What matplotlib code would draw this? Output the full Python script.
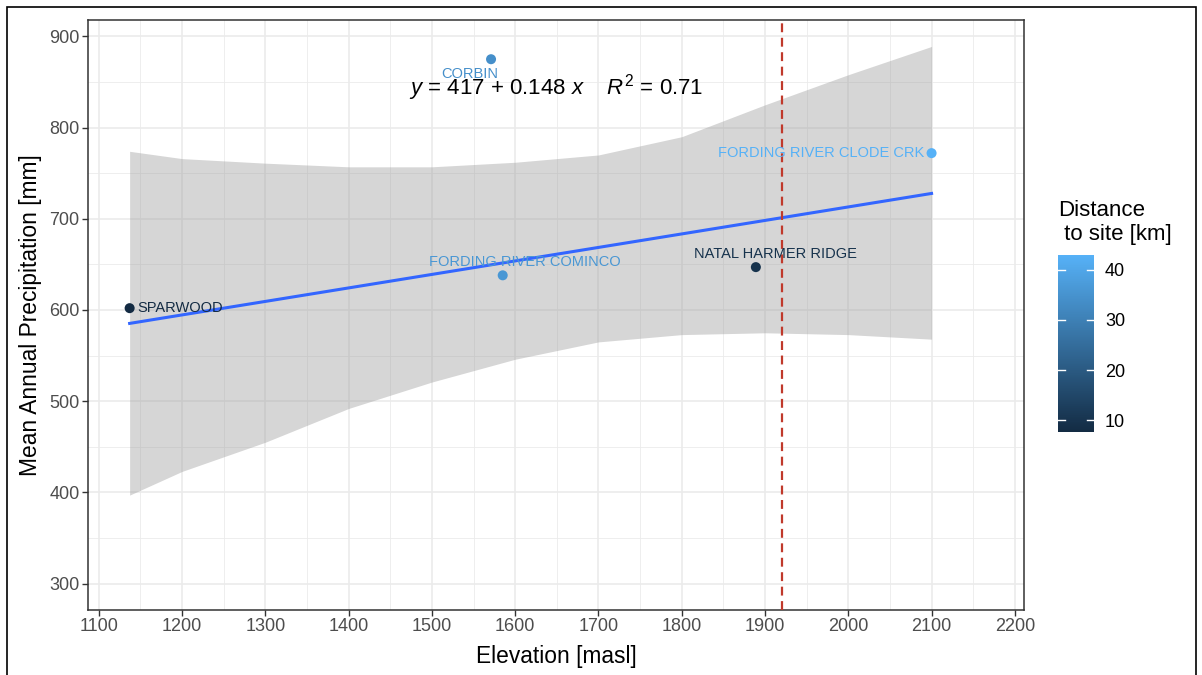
import numpy as np
import matplotlib.pyplot as plt
from matplotlib.colors import LinearSegmentedColormap, Normalize
from matplotlib.cm import ScalarMappable
from matplotlib.patches import Rectangle
from matplotlib.ticker import MultipleLocator

plt.rcParams['font.family'] = ['Liberation Sans', 'DejaVu Sans']
plt.rcParams['mathtext.fontset'] = 'custom'
plt.rcParams['mathtext.rm'] = 'Liberation Sans'
plt.rcParams['mathtext.it'] = 'Liberation Sans:italic'

# climate stations
stations = ['SPARWOOD', 'CORBIN', 'FORDING RIVER COMINCO',
            'NATAL HARMER RIDGE', 'FORDING RIVER CLODE CRK']
elevation = [1137, 1571, 1585, 1889, 2100]      # masl
precip = [602, 875, 638, 647, 772]              # mm
distance = [7.7, 34, 36, 9.5, 42.9]             # km to site

# fitted line
intercept = 417
slope = 0.148
r2 = 0.71

# confidence band around the fit
band_x = [1137, 1200, 1300, 1400, 1500, 1600, 1700, 1800, 1900, 2000, 2100]
band_hi = [774, 766, 761, 757, 757, 762, 770, 790, 825, 858, 889]
band_lo = [397, 423, 455, 492, 521, 546, 565, 573, 575, 573, 568]

site_elev = 1920

# label offsets in pixels (dx, dy, ha)
label_pos = [(8, 0, 'left'), (-21, -15, 'center'), (22, 13, 'center'),
             (20, 13, 'center'), (-7, 0, 'right')]

W, H = 1202, 675
fig = plt.figure(figsize=(W / 100, H / 100), dpi=100)
ax = fig.add_axes([88 / W, (H - 610) / H, (1024 - 88) / W, (610 - 20) / H])

cmap = LinearSegmentedColormap.from_list('ggblue', ['#132B43', '#56B1F7'])
norm = Normalize(vmin=min(distance), vmax=max(distance))

# grid (theme_bw look)
ax.set_xlim(1087, 2211)
ax.set_ylim(271, 918)
ax.xaxis.set_major_locator(MultipleLocator(100))
ax.xaxis.set_minor_locator(MultipleLocator(50))
ax.yaxis.set_major_locator(MultipleLocator(100))
ax.yaxis.set_minor_locator(MultipleLocator(50))
ax.grid(which='major', color='#EBEBEB', lw=1.2, zorder=0)
ax.grid(which='minor', color='#EBEBEB', lw=0.6, zorder=0)
ax.set_axisbelow(True)

ax.fill_between(band_x, band_lo, band_hi, color='#999999', alpha=0.4, lw=0, zorder=1)
fx = np.array([band_x[0], band_x[-1]])
ax.plot(fx, intercept + slope * fx, color='#3366FF', lw=2.2, zorder=2)
ax.axvline(site_elev, color='#C0392B', lw=1.6, ls=(0, (4, 2.5)), zorder=3)

ax.scatter(elevation, precip, c=distance, cmap=cmap, norm=norm, s=52, zorder=4, lw=0)
for name, x, y, d, (dx, dy, ha) in zip(stations, elevation, precip, distance, label_pos):
    ax.annotate(name, (x, y), xytext=(dx, dy), textcoords='offset pixels',
                ha=ha, va='center', fontsize=10.5, color=cmap(norm(d)), zorder=5)

eq = r'$y$ = %d + %.3f $x$    $R^2$ = %.2f' % (intercept, slope, r2)
ax.text(0.5, 0.885, eq, transform=ax.transAxes, ha='center', va='center',
        fontsize=16, color='black', zorder=6)

for s in ax.spines.values():
    s.set_color('#333333')
    s.set_linewidth(1.1)
ax.tick_params(which='major', length=4, width=1, color='#333333',
               labelsize=13, labelcolor='#4D4D4D', pad=2)
ax.tick_params(which='minor', length=0)

fig.text(556 / W, 1 - 657 / H, 'Elevation [masl]', ha='center', va='center', fontsize=16.4)
fig.text(31 / W, 1 - 315 / H, 'Mean Annual Precipitation [mm]', ha='center', va='center',
         rotation=90, fontsize=16.4)

# colour legend
cax = fig.add_axes([1058 / W, (H - 432) / H, 36 / W, 177 / H])
cb = fig.colorbar(ScalarMappable(norm=norm, cmap=cmap), cax=cax)
cb.outline.set_visible(False)
cb.set_ticks([10, 20, 30, 40])
cax.tick_params(length=0, labelsize=13, pad=8, labelcolor='black')
for t in [10, 20, 30, 40]:
    cax.plot([0, 0.2], [t, t], color='white', lw=1, transform=cax.get_yaxis_transform())
    cax.plot([0.8, 1], [t, t], color='white', lw=1, transform=cax.get_yaxis_transform())
fig.text(1058 / W, 1 - 200 / H, 'Distance\n to site [km]', ha='left', va='top', fontsize=16)

# frame around the figure
fig.patches.append(Rectangle((7 / W, -0.1), (1196 - 7) / W, 1 - 7 / H + 0.1,
                             transform=fig.transFigure, fill=False, ec='black', lw=1.2))

fig.savefig('out.png', dpi=100)
